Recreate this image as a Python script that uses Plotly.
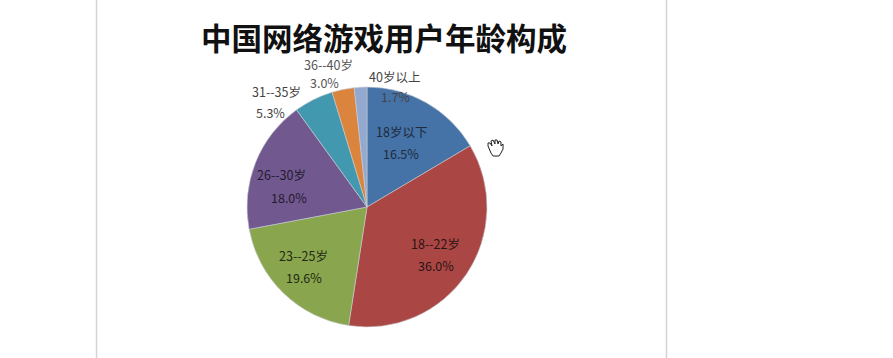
import plotly.graph_objects as go

W, H = 893, 358
categories = ["18岁以下", "18--22岁", "23--25岁", "26--30岁", "31--35岁", "36--40岁", "40岁以上"]
values = [16.5, 36.0, 19.6, 18.0, 5.3, 3.0, 1.7]
colors = ["#4572A7", "#AA4643", "#89A54E", "#71588F", "#4198AF", "#DB843D", "#93A9CF"]
title_text = "中国网络游戏用户年龄构成"

# label anchor pixels: (name x, name y, value x, value y, colour)
label_pos = [
    (401, 132, 401, 153, "#1f2a3a"),
    (435, 243, 436, 265, "#2a1414"),
    (303, 255, 304, 277, "#1f2a12"),
    (281, 174, 289, 197, "#231a30"),
    (276, 91, 270, 113, "#444444"),
    (328, 64, 324, 82, "#555555"),
    (394, 76, 395, 97, "#444444"),
]

cx, cy, r = 367, 207, 120

fig = go.Figure(go.Pie(
    labels=categories, values=values, sort=False, direction="clockwise", rotation=0,
    textinfo="none", hoverinfo="label+percent",
    marker=dict(colors=colors, line=dict(color="#c8ccd4", width=0.6)),
    domain=dict(x=[(cx - r) / W, (cx + r) / W], y=[1 - (cy + r) / H, 1 - (cy - r) / H]),
    showlegend=False,
))

annotations = [dict(
    x=384 / W, y=1 - 37 / H, xref="paper", yref="paper", text=f"<b>{title_text}</b>",
    showarrow=False, xanchor="center", yanchor="middle",
    font=dict(family="Noto Sans CJK SC", size=30.5, color="#111111"),
)]
for cat, val, (nx, ny, vx, vy, col) in zip(categories, values, label_pos):
    for x, y, t in ((nx, ny, cat), (vx, vy, f"{val:.1f}%")):
        annotations.append(dict(
            x=x / W, y=1 - y / H, xref="paper", yref="paper", text=t, showarrow=False,
            xanchor="center", yanchor="middle",
            font=dict(family="Noto Sans CJK SC", size=12.5, color=col),
        ))

line = dict(color="#d4d4d4", width=1.5)
shapes = [
    dict(type="line", xref="paper", yref="paper", x0=96.5 / W, x1=96.5 / W, y0=0, y1=1, line=line),
    dict(type="line", xref="paper", yref="paper", x0=666.5 / W, x1=666.5 / W, y0=0, y1=1, line=line),
]

# small hand cursor outline
hand = [(491, 153), (488, 146), (488, 143), (490, 143), (492, 146), (491, 141), (493, 140), (495, 144),
        (495, 140), (497, 140), (498, 144), (499, 141), (501, 142), (501, 146), (503, 144), (503, 149),
        (501, 153), (499, 156), (493, 156)]
path = "M " + " L ".join(f"{x / W:.4f} {1 - y / H:.4f}" for x, y in hand) + " Z"
shapes.append(dict(type="path", xref="paper", yref="paper", path=path,
                   fillcolor="white", line=dict(color="#222222", width=1)))

fig.update_layout(
    width=W, height=H, margin=dict(l=0, r=0, t=0, b=0),
    paper_bgcolor="white", plot_bgcolor="white",
    annotations=annotations, shapes=shapes,
)
fig.write_html("out.html", config={"displayModeBar": False},
               post_script="document.body.style.margin='0';document.documentElement.style.overflow='hidden';")
